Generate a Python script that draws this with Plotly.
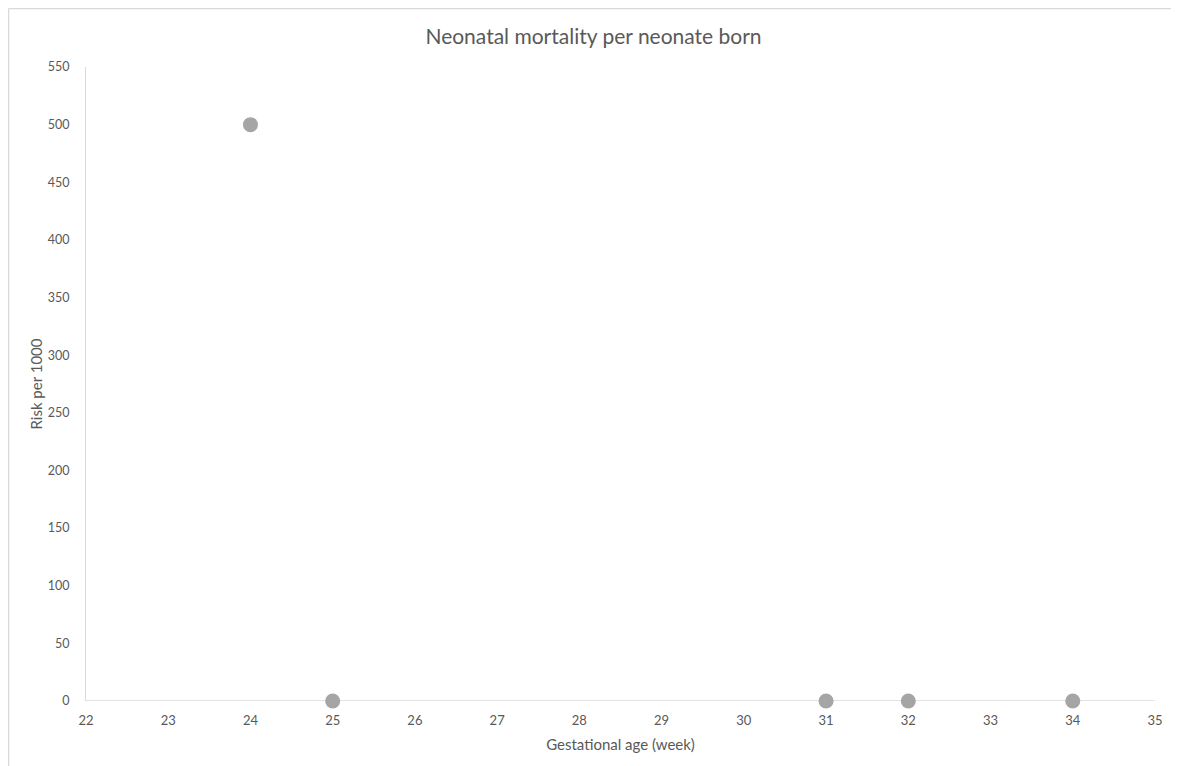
import plotly.graph_objects as go

weeks = [24, 25, 31, 32, 34]
risk = [500, 0, 0, 0, 0]
x_ticks = list(range(22, 36))
y_ticks = list(range(0, 551, 50))

# page has an 8px body offset, so the figure is drawn 8px smaller
OFF = 8
W, H = 1179 - OFF, 766 - OFF
L, R, T, B = 86 - OFF, 24, 67 - OFF, 65
pw = W - L - R
ph = H - T - B

fig = go.Figure()
fig.add_trace(go.Scatter(
    x=weeks, y=risk, mode="markers",
    marker=dict(size=15, color="#A5A5A5", line=dict(width=0)),
    cliponaxis=False, hoverinfo="x+y", showlegend=False,
))

font = "Lato, Carlito, Calibri, 'Open Sans', sans-serif"
fig.update_layout(
    width=W, height=H,
    margin=dict(l=L, r=R, t=T, b=B),
    paper_bgcolor="white", plot_bgcolor="white",
    font=dict(family=font, color="#595959", size=13),
    title=dict(text="Neonatal mortality per neonate born", x=(593.5 - OFF) / W, xref="container",
               y=1 - (37 - OFF) / H, yref="container", xanchor="center", yanchor="middle",
               font=dict(size=21, color="#595959", family=font)),
    xaxis=dict(range=[22, 35], tickvals=x_ticks, ticktext=[str(v) for v in x_ticks],
               showgrid=False, zeroline=False, showline=False, ticks="",
               ticklabelstandoff=10,
               tickfont=dict(size=13, color="#595959"),
               title=dict(text="Gestational age (week)", standoff=12,
                          font=dict(size=15, color="#595959"))),
    yaxis=dict(range=[0, 550], tickvals=y_ticks, ticktext=[str(v) for v in y_ticks],
               showgrid=False, zeroline=False, showline=True, linecolor="#D9D9D9",
               linewidth=1, ticks="", ticklabelstandoff=13,
               tickfont=dict(size=12.5, color="#595959"),
               title=dict(text="Risk per 1000", standoff=1,
                          font=dict(size=15, color="#595959"))),
)
# horizontal axis line at y=0
fig.add_shape(type="line", xref="x", yref="y", x0=22, x1=35, y0=0, y1=0,
              line=dict(color="#D9D9D9", width=1.5), layer="below")
# chart border (top and left)
bx0 = (0.5 - L) / pw
by_top = 1 + (T - 0.5) / ph
by_bot = -(B + 5) / ph
fig.add_shape(type="line", xref="paper", yref="paper", x0=bx0, x1=(W + 5 - L) / pw,
              y0=by_top, y1=by_top, line=dict(color="#D9D9D9", width=1.5))
fig.add_shape(type="line", xref="paper", yref="paper", x0=bx0, x1=bx0,
              y0=by_top, y1=by_bot, line=dict(color="#D9D9D9", width=1.5))

fig.write_html("out.html")
